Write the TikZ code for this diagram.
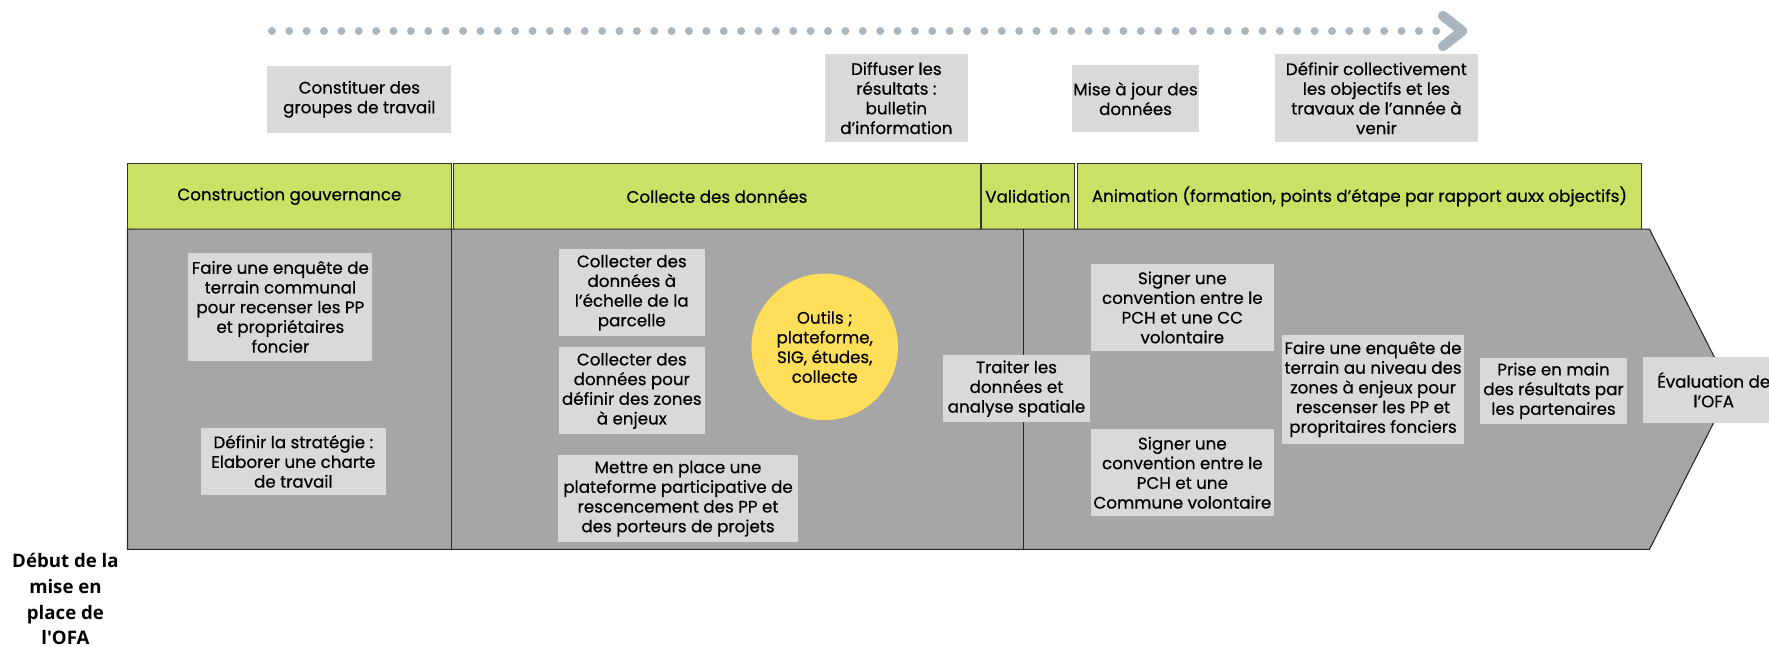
\documentclass[tikz,border=0pt]{standalone}
\usepackage{fontspec}
\setmainfont{Poppins}[UprightFeatures={FakeBold=0.5}]
\newfontfamily\debutfont{Open Sans}
\definecolor{vertbandeau}{RGB}{201,226,101}
\definecolor{grisfond}{RGB}{166,166,166}
\definecolor{grisboite}{RGB}{217,217,217}
\definecolor{jauneoutil}{RGB}{255,222,89}
\definecolor{grisfleche}{RGB}{169,182,191}
\begin{document}
\begin{tikzpicture}[x=0.02256cm,y=-0.02256cm,
        etape/.style={fill=grisboite,align=center,inner sep=1pt,font=\fontsize{9.5}{11.2}\selectfont},
        phase/.style={draw=black!80,fill=vertbandeau,line width=0.6pt,minimum height=1.31cm,inner sep=0pt,font=\fontsize{9.5}{11.2}\selectfont}]
        \useasboundingbox (0,0) rectangle (1568,573);
        \draw [grisfleche,line width=0.158cm,line cap=round,dash pattern=on 0pt off 0.3474cm] (241,27.5) -- (1274,27.5); %Frise pointillee
        \draw [grisfleche,line width=0.2cm,line cap=round,line join=round] (1279,14) -- (1296,27.5) -- (1279,41); %Pointe de la frise
        \node [etape,minimum width=3.68cm,minimum height=1.35cm] (groupes) at (318.5,88) {Constituer des\\groupes de travail};
        \node [etape,minimum width=2.87cm,minimum height=1.76cm] (diffuser) at (794.5,87) {Diffuser les\\résultats :\\bulletin\\d'information};
        \node [etape,minimum width=2.32cm,minimum height=1.33cm] (miseajour) at (1006.5,87.5) {Mise à jour des\\données};
        \node [etape,minimum width=4.06cm,minimum height=1.76cm] (objectifs) at (1220,87) {Définir collectivement\\les objectifs et les\\travaux de l'année à\\venir};
        \node [phase,minimum width=6.47cm] (gouvernance) at (256.5,174) {Construction gouvernance}; %Bandeau vert
        \node [phase,minimum width=10.54cm] (collecte) at (635.5,174) {Collecte des données};
        \node [phase,minimum width=1.85cm] (validation) at (911,174) {Validation};
        \node [phase,minimum width=11.28cm] (animation) at (1205,174) {Animation (formation, points d'étape par rapport auxx objectifs)};
        \draw [fill=grisfond,draw=black!85,line width=0.6pt] (113,203) -- (1462,203) -- (1534,345) -- (1462,487) -- (113,487) -- cycle; %Corps en fleche
        \draw [black!85,line width=0.6pt] (400,203) -- (400,487); %Separation gouvernance
        \draw [black!85,line width=0.6pt] (907,203) -- (907,487); %Separation animation
        \node [etape,minimum width=3.68cm,minimum height=2.17cm] (enqcommune) at (248.5,272) {Faire une enquête de\\terrain communal\\pour recenser les PP\\et propriétaires\\foncier};
        \node [etape,minimum width=3.70cm,minimum height=1.35cm] (strategie) at (260,409) {Définir la stratégie :\\Elaborer une charte\\de travail};
        \node [etape,minimum width=2.93cm,minimum height=1.74cm] (parcelle) at (560,259.5) {Collecter des\\données à\\l'échelle de la\\parcelle};
        \node [etape,minimum width=2.93cm,minimum height=1.74cm] (zones) at (560,346.5) {Collecter des\\données pour\\définir des zones\\à enjeux};
        \node [etape,minimum width=4.78cm,minimum height=1.74cm] (plateforme) at (601,442) {Mettre en place une\\plateforme participative de\\rescencement des PP et\\des porteurs de projets};
        \node [circle,fill=jauneoutil,minimum size=2.93cm,inner sep=0pt,align=center,font=\fontsize{9.5}{11.2}\selectfont] (outils) at (731,307.5) {Outils ;\\plateforme,\\SIG, études,\\collecte};
        \node [etape,minimum width=2.93cm,minimum height=1.33cm] (traiter) at (901,344.5) {Traiter les\\données et\\analyse spatiale};
        \node [etape,minimum width=3.65cm,minimum height=1.74cm] (conventioncc) at (1048,272.5) {Signer une\\convention entre le\\PCH et une CC\\volontaire};
        \node [etape,minimum width=3.65cm,minimum height=1.74cm] (conventioncom) at (1048,419) {Signer une\\convention entre le\\PCH et une\\Commune volontaire};
        \node [etape,minimum width=3.65cm,minimum height=2.17cm] (enqzones) at (1217,345) {Faire une enquête de\\terrain au niveau des\\zones à enjeux pour\\rescenser les PP et\\propritaires fonciers};
        \node [etape,minimum width=2.93cm,minimum height=1.33cm] (prise) at (1377,346.5) {Prise en main\\des résultats par\\les partenaires};
        \node [etape,minimum width=2.84cm,minimum height=1.33cm] (evaluation) at (1519,345.5) {Évaluation de\\l'OFA};
        \node [align=center,font=\debutfont\fontsize{10.6}{14.7}\selectfont\bfseries] (debut) at (58,531) {Début de la\\mise en\\place de\\l'OFA};
\end{tikzpicture}
\end{document}
